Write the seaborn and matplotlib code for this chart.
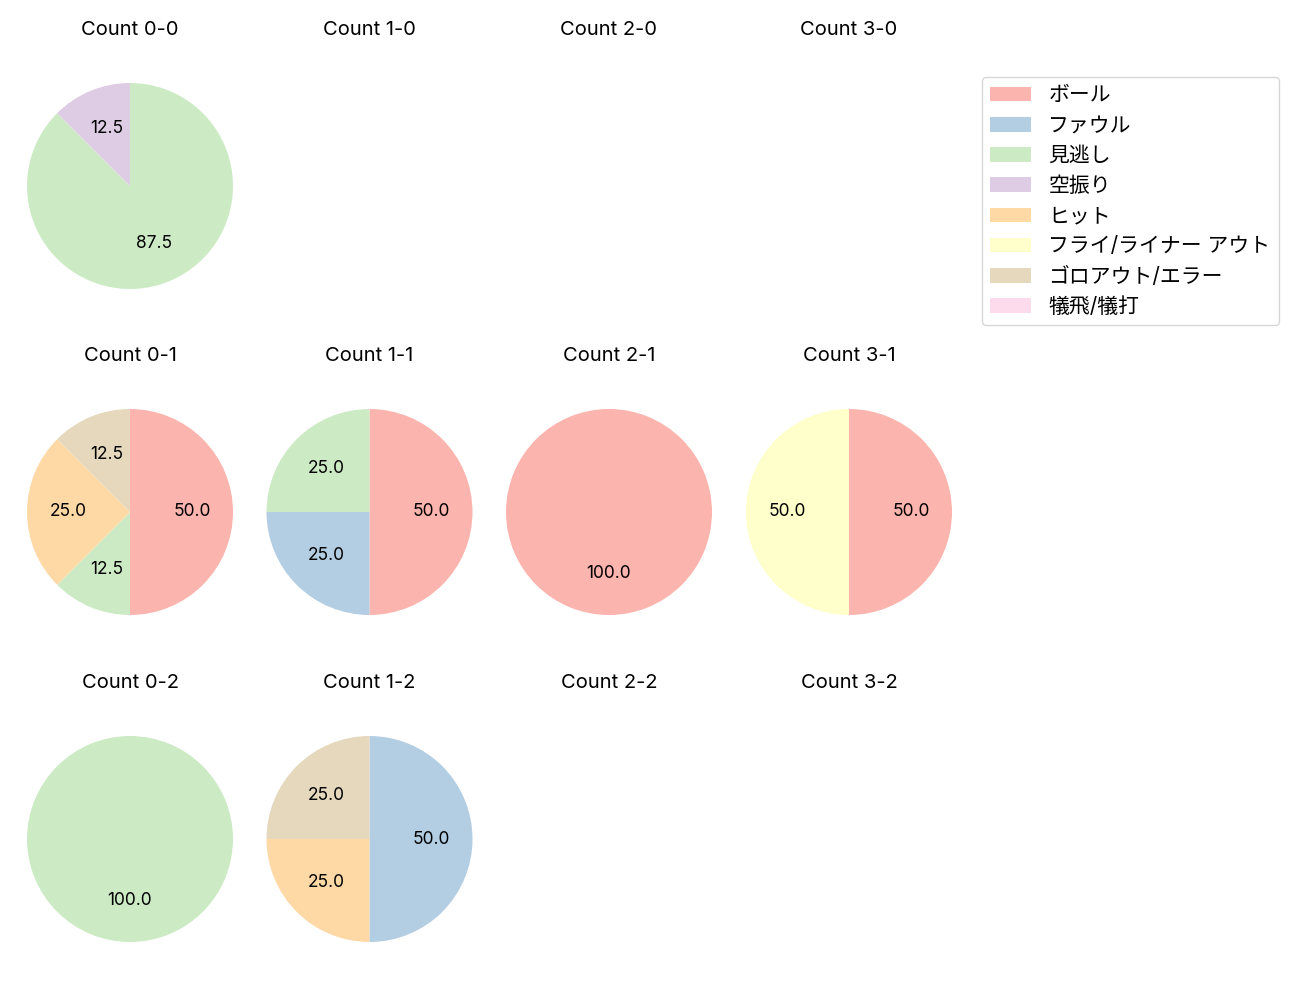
import matplotlib
matplotlib.use("Agg")
import matplotlib.pyplot as plt
import matplotlib.patches as mpatches
import seaborn as sns

sns.set_theme(style="white")
plt.rcParams['font.family'] = ['Inter', 'Noto Sans CJK JP', 'DejaVu Sans']
plt.rcParams['text.color'] = 'black'

categories = ["ボール", "ファウル", "見逃し", "空振り", "ヒット",
              "フライ/ライナー アウト", "ゴロアウト/エラー", "犠飛/犠打"]
balls = [0, 1, 2, 3]
strikes = [0, 1, 2]

# percentages per count, in category order
count_0_0 = [0, 0, 87.5, 12.5, 0, 0, 0, 0]
count_0_1 = [50.0, 0, 12.5, 0, 25.0, 0, 12.5, 0]
count_1_1 = [50.0, 25.0, 25.0, 0, 0, 0, 0, 0]
count_2_1 = [100.0, 0, 0, 0, 0, 0, 0, 0]
count_3_1 = [50.0, 0, 0, 0, 0, 50.0, 0, 0]
count_0_2 = [0, 0, 100.0, 0, 0, 0, 0, 0]
count_1_2 = [0, 50.0, 0, 0, 25.0, 0, 25.0, 0]

data = {
    (0, 0): count_0_0,
    (0, 1): count_0_1,
    (1, 1): count_1_1,
    (2, 1): count_2_1,
    (3, 1): count_3_1,
    (0, 2): count_0_2,
    (1, 2): count_1_2,
}

colors = sns.color_palette("Pastel1", len(categories))

W, H = 1300, 1000
fig = plt.figure(figsize=(13, 10), dpi=100)

col_cx = [130, 369.5, 609, 849]
row_cy = [186, 512, 839]
S = 240
R = 103
lim = S / 2 / R

for si, s in enumerate(strikes):
    for bi, b in enumerate(balls):
        cx, cy = col_cx[bi], row_cy[si]
        ax = fig.add_axes([(cx - S / 2) / W, 1 - (cy + S / 2) / H, S / W, S / H])
        ax.set_title(f"Count {b}-{s}", fontsize=14.5, pad=22, color='black')
        vals = data.get((b, s))
        if vals is not None:
            v = [x for x in vals if x > 0]
            c = [colors[i] for i, x in enumerate(vals) if x > 0]
            ax.pie(v, colors=c, startangle=90, counterclock=False,
                   autopct='%.1f', wedgeprops={'linewidth': 0},
                   textprops={'fontsize': 12.5, 'color': 'black'})
        ax.set_xlim(-lim, lim)
        ax.set_ylim(-lim, lim)
        ax.set_aspect('equal')
        ax.axis('off')

handles = [mpatches.Patch(facecolor=colors[i], edgecolor='none', label=categories[i])
           for i in range(len(categories))]
fig.legend(handles=handles, loc='upper left',
           bbox_to_anchor=(982 / W, 1 - 77 / H), borderaxespad=0,
           fontsize=15, frameon=True,
           labelspacing=0.49, handlelength=1.97, handletextpad=0.82,
           borderpad=0.4, edgecolor='#cccccc', fancybox=True)

fig.savefig("out.png", dpi=100)
